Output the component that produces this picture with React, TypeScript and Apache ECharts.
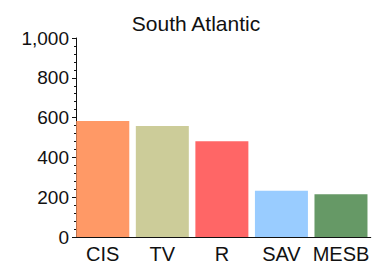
import React, { useEffect, useRef } from "react";
import * as echarts from "echarts";

const categories = ["CIS", "TV", "R", "SAV", "MESB"];
const values = [583, 558, 481, 233, 215];
const barColors = ["#FF9966", "#CCCC99", "#FF6666", "#99CCFF", "#669966"];
const titleText = "South Atlantic";

export default function App() {
  const ref = useRef<HTMLDivElement>(null);
  useEffect(() => {
    const chart = echarts.init(ref.current!, null, { renderer: "svg" });
    chart.setOption({
      animation: false,
      backgroundColor: "#ffffff",
      title: {
        text: titleText,
        left: 191,
        textAlign: "center",
        top: 8,
        textStyle: { fontFamily: "Liberation Sans, Arial, sans-serif", fontSize: 21, fontWeight: "normal", color: "#111" },
      },
      grid: { left: 73, right: -2, top: 38, bottom: 31, containLabel: false },
      xAxis: {
        type: "category",
        data: categories,
        axisLine: { lineStyle: { color: "#111", width: 1 } },
        axisTick: { alignWithLabel: true, length: 4, lineStyle: { color: "#111" } },
        axisLabel: {
          interval: 0,
          hideOverlap: false,
          fontFamily: "Liberation Sans, Arial, sans-serif",
          fontSize: 20,
          color: "#111",
          margin: 7,
        },
      },
      yAxis: {
        type: "value",
        min: 0,
        max: 1000,
        interval: 200,
        offset: -3,
        axisLine: { show: true, lineStyle: { color: "#111", width: 1 } },
        axisTick: { show: true, length: 4, lineStyle: { color: "#111" } },
        minorTick: { show: true, splitNumber: 5, length: 2, lineStyle: { color: "#111" } },
        splitLine: { show: false },
        axisLabel: {
          fontFamily: "Liberation Sans, Arial, sans-serif",
          fontSize: 19,
          color: "#111",
          margin: 7,
          formatter: (v: number) => v.toLocaleString("en-US"),
        },
      },
      series: [
        {
          type: "bar",
          barWidth: 53,
          data: values.map((v, i) => ({ value: v, itemStyle: { color: barColors[i] } })),
        },
      ],
    });
    return () => chart.dispose();
  }, []);
  return <div ref={ref} style={{ position: "fixed", left: 0, top: 0, width: 372, height: 268 }} />;
}
